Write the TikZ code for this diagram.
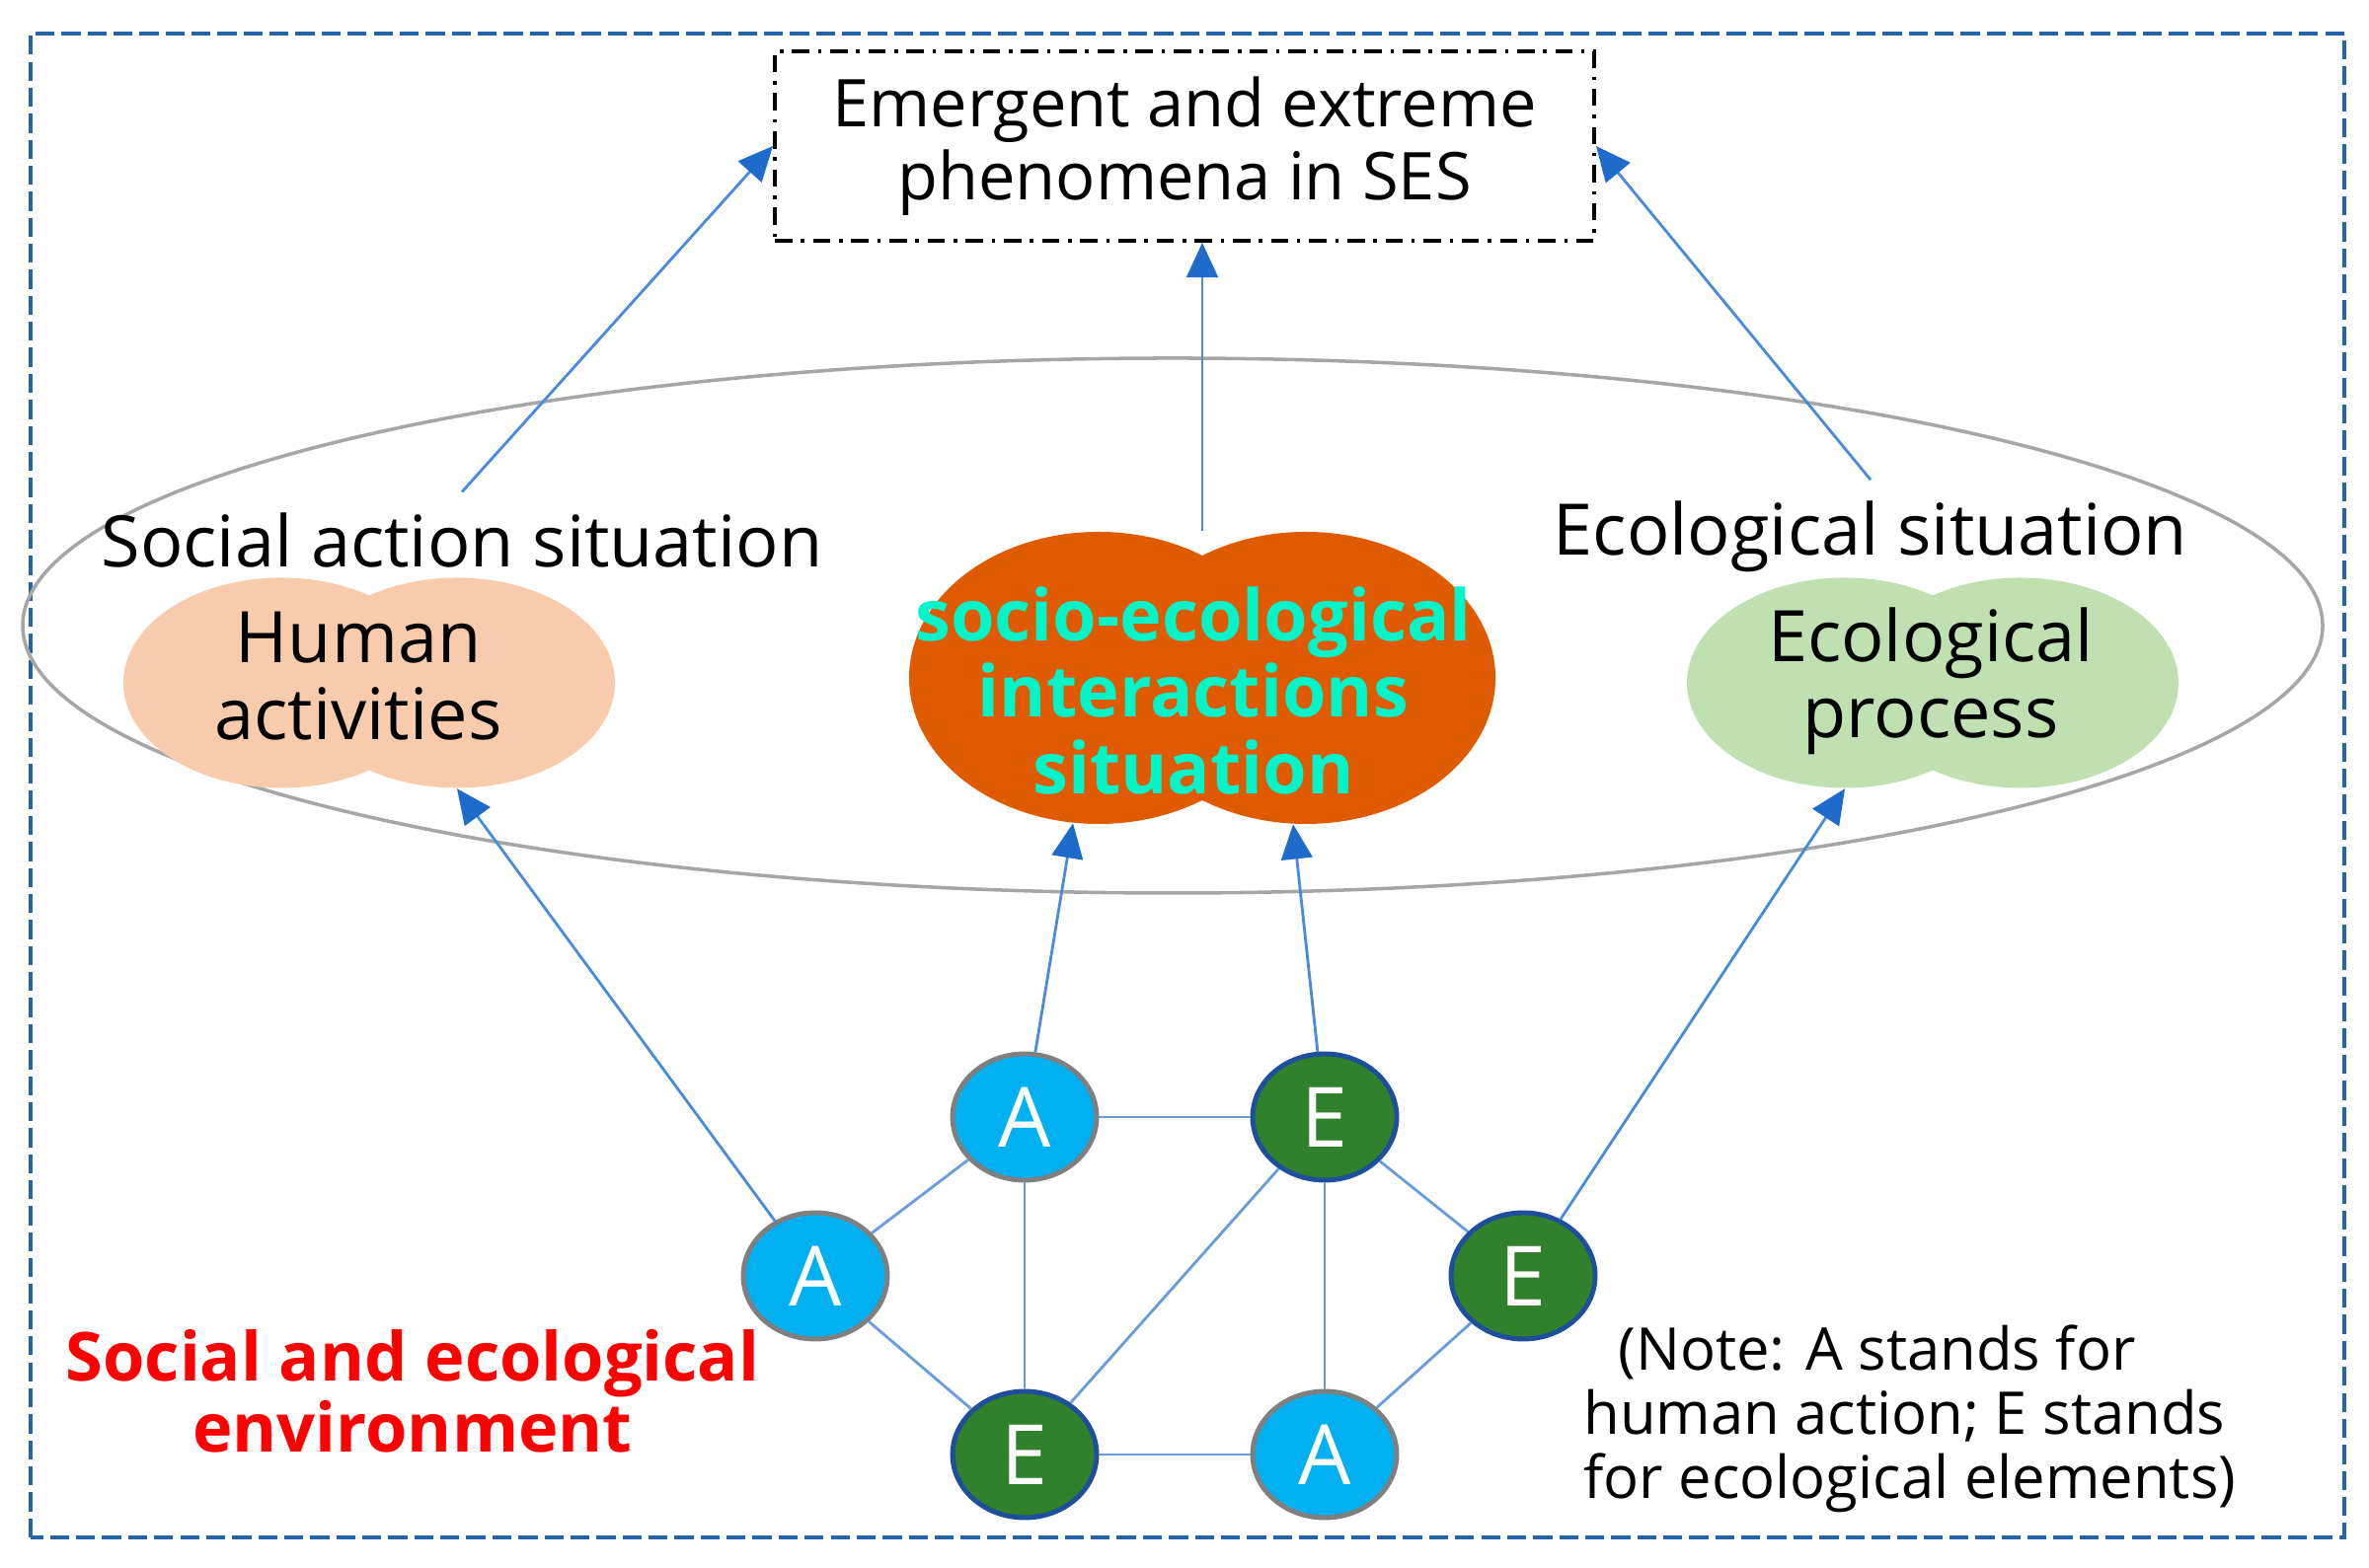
\documentclass[tikz,border=0pt]{standalone}
\usepackage{fontspec}
\setmainfont{Open Sans}
\usetikzlibrary{arrows.meta,shapes.geometric,calc}
\definecolor{boxblue}{HTML}{2565AE}
\definecolor{arrblue}{HTML}{4A8AD8}
\definecolor{headblue}{HTML}{1F6BCB}
\definecolor{linkblue}{HTML}{6A9BDB}
\definecolor{ellgray}{HTML}{A6A6A6}
\definecolor{peach}{HTML}{F8CBAD}
\definecolor{leafgreen}{HTML}{C0E0B2}
\definecolor{socorange}{HTML}{E05A00}
\definecolor{soccyan}{HTML}{00F5C8}
\definecolor{acol}{HTML}{00B0F0}
\definecolor{agray}{HTML}{7F7F7F}
\definecolor{ecol}{HTML}{31802B}
\definecolor{eborder}{HTML}{1F4E9C}

\begin{document}
\begin{tikzpicture}[>={Triangle[length=10pt,width=9pt,color=headblue]}]
\tikzstyle{blob}=[ellipse,minimum width=3.2cm,minimum height=2.13cm,inner sep=0pt]
\tikzstyle{sblob}=[ellipse,minimum width=3.84cm,minimum height=2.96cm,inner sep=0pt,fill=socorange]
\tikzstyle{lbl}=[align=center,font=\fontsize{20.5}{22}\selectfont]
\tikzstyle{anode}=[ellipse,minimum width=1.46cm,minimum height=1.28cm,inner sep=0pt,fill=acol,draw=agray,line width=1.4pt,text=white,font=\fontsize{24}{24}\selectfont]
\tikzstyle{enode}=[anode,fill=ecol,draw=eborder]
\tikzstyle{link}=[linkblue,line width=0.8pt]
\tikzstyle{arr}=[arrblue,line width=0.8pt,->]
\useasboundingbox (0,0) rectangle (24,15.89);
\draw[boxblue,line width=1.1pt,dash pattern=on 5.5pt off 2pt] (0.31,0.31) rectangle (23.75,15.55);
\node[draw,line width=1.1pt,dash pattern=on 5pt off 2.5pt on 1pt off 2.5pt,minimum width=8.3cm,minimum height=1.92cm,align=center,font=\fontsize{19}{21}\selectfont] (top) at (12.0,14.41) {Emergent and extreme\\phenomena in SES};
\node[ellipse,draw=ellgray,line width=1pt,minimum width=23.3cm,minimum height=5.42cm] (sit) at (11.88,9.55) {};
\node[lbl,inner sep=6pt] (sas) at (4.68,10.41) {Social action situation};
\node[lbl,inner sep=6pt] (es) at (18.95,10.45) {Ecological situation};
\node[blob,fill=peach] (hl) at (2.85,8.97) {};
\node[blob,fill=peach] (hr) at (4.63,8.97) {};
\node[lbl] (hum) at (3.63,9.04) {Human\\activities};
\node[blob,fill=leafgreen] (el) at (18.69,8.97) {};
\node[blob,fill=leafgreen] (er) at (20.47,8.97) {};
\node[lbl] (eco) at (19.56,8.99) {Ecological\\process};
\node[sblob] (sl) at (11.13,9.02) {};
\node[sblob] (sr) at (13.23,9.02) {};
\node[lbl,font=\fontsize{20.5}{22}\selectfont\bfseries,text=soccyan] (soc) at (12.09,8.89) {socio-ecological\\interactions\\situation};
\coordinate (sm) at ($(sl.north)!.5!(sr.north)$);
\node[anode] (a1) at (10.38,4.57) {A};
\node[enode] (e1) at (13.42,4.57) {E};
\node[anode] (a2) at (8.26,2.96) {A};
\node[enode] (e2) at (15.43,2.96) {E};
\node[enode] (e3) at (10.38,1.15) {E};
\node[anode] (a3) at (13.42,1.15) {A};
\foreach \a/\b in {a1/e1,a1/a2,a1/e3,e1/e2,e1/e3,e1/a3,a2/e3,e3/a3,e2/a3} \draw[link] (\a) -- (\b);
\draw[arr] (a2) -- (hr.south);
\draw[arr] (a1) -- (sl.-100);
\draw[arr] (e1) -- (sr.-95);
\draw[arr] (e2) -- (el.south);
\draw[arr] (sas.north) -- (top.west);
\draw[arr] (sm) -- (sm |- top.south);
\draw[arr] (es.north) -- (top.east);
\node[align=center,text=red,font=\fontsize{19.5}{20.5}\selectfont\bfseries] (env) at (4.18,1.79) {Social and ecological\\environment};
\node[anchor=west,align=left,font=\fontsize{17}{18.5}\selectfont] (note) at (15.92,1.51) {\hspace*{0.35cm}(Note: A stands for\\human action; E stands\\for ecological elements)};
\end{tikzpicture}
\end{document}
